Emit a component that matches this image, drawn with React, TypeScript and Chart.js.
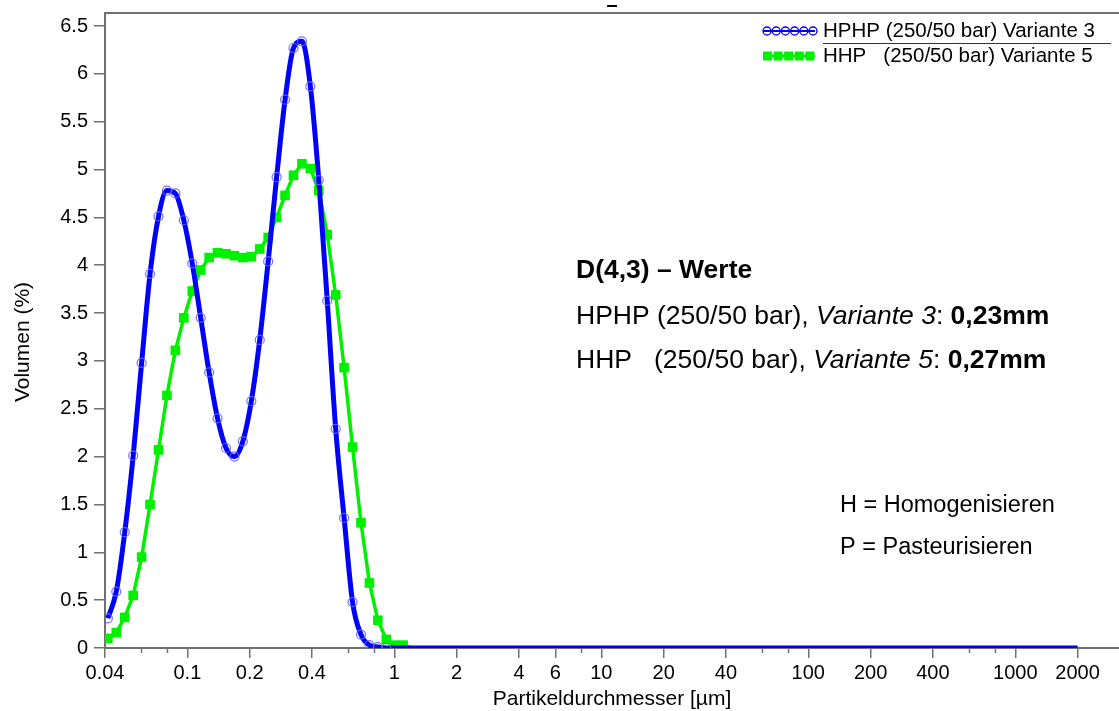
import { useEffect, useRef } from 'react';
import { Chart, registerables } from 'chart.js';

Chart.register(...registerables);

const DIAMETERS = [
  0.0413, 0.04536, 0.04983, 0.05473, 0.06012, 0.06603, 0.07253, 0.07967, 0.08751, 0.09612,
  0.1056, 0.116, 0.1274, 0.1399, 0.1537, 0.1688, 0.1854, 0.2037, 0.2237, 0.2457,
  0.2699, 0.2965, 0.3256, 0.3577, 0.3929, 0.4315, 0.474, 0.5207, 0.5719, 0.6282,
  0.69, 0.7579, 0.8325, 0.9144, 1.004, 1.103, 1.212, 2000,
];

// Volumen (%) – HPHP (250/50 bar) Variante 3
const HPHP_V3 = [
  0.31, 0.59, 1.21, 2.01, 2.98, 3.91, 4.51, 4.78, 4.75, 4.47,
  4.02, 3.45, 2.88, 2.4, 2.09, 2.0, 2.16, 2.58, 3.22, 4.04,
  4.92, 5.73, 6.27, 6.34, 5.87, 4.89, 3.63, 2.29, 1.36, 0.48,
  0.14, 0.03, 0.01, 0, 0, 0, 0, 0,
];

// Volumen (%) – HHP (250/50 bar) Variante 5
const HHP_V5 = [
  0.1, 0.16, 0.32, 0.55, 0.95, 1.5, 2.07, 2.64, 3.11, 3.45,
  3.73, 3.95, 4.08, 4.13, 4.12, 4.1, 4.08, 4.09, 4.17, 4.29,
  4.5, 4.73, 4.94, 5.06, 5.01, 4.78, 4.32, 3.69, 2.93, 2.1,
  1.31, 0.68, 0.29, 0.09, 0.03, 0.03, 0, 0,
];

const SERIES_NAMES = ['HPHP (250/50 bar) Variante 3', 'HHP   (250/50 bar) Variante 5'];

const X_TICKS = [0.04, 0.1, 0.2, 0.4, 1, 2, 4, 6, 10, 20, 40, 100, 200, 400, 1000, 2000];
const X_TICK_LABELS = ['0.04', '0.1', '0.2', '0.4', '1', '2', '4', '6', '10', '20', '40', '100', '200', '400', '1000', '2000'];
const X_MINOR_TICKS = [0.06, 0.08, 0.6, 0.8, 8, 60, 80, 600, 800];
const Y_TICKS = [0, 0.5, 1, 1.5, 2, 2.5, 3, 3.5, 4, 4.5, 5, 5.5, 6, 6.5];
const Y_TICK_LABELS = ['0', '0.5', '1', '1.5', '2', '2.5', '3', '3.5', '4', '4.5', '5', '5.5', '6', '6.5'];

const X_TITLE = 'Partikeldurchmesser [µm]';
const Y_TITLE = 'Volumen (%)';
const TOP_MARK = '–';

const INFO_HEADER = 'D(4,3) – Werte';
const INFO_LINES: [string, string][][] = [
  [['HPHP (250/50 bar), ', 'normal'], ['Variante 3', 'italic'], [': ', 'normal'], ['0,23mm', 'bold']],
  [['HHP   (250/50 bar), ', 'normal'], ['Variante 5', 'italic'], [': ', 'normal'], ['0,27mm', 'bold']],
];
const ABBREVIATIONS = ['H = Homogenisieren', 'P = Pasteurisieren'];

const FONT = '"Liberation Sans", Arial, Helvetica, sans-serif';
const BLUE = '#0000ff';
const GREEN = '#00f000';
const AXIS = '#707070';

function fontStr(style: string, size: number) {
  if (style === 'bold') return `bold ${size}px ${FONT}`;
  if (style === 'italic') return `italic ${size}px ${FONT}`;
  return `${size}px ${FONT}`;
}

const overlayPlugin = {
  id: 'overlay',
  afterDraw(chart: any) {
    const ctx: CanvasRenderingContext2D = chart.ctx;
    const { left, right, top, bottom } = chart.chartArea;
    const xs = chart.scales.x;
    ctx.save();

    // top border
    ctx.strokeStyle = AXIS;
    ctx.lineWidth = 2;
    ctx.beginPath();
    ctx.moveTo(left, top);
    ctx.lineTo(chart.width, top);
    ctx.stroke();

    // minor ticks
    ctx.lineWidth = 1.5;
    for (const v of X_MINOR_TICKS) {
      const px = Math.round(xs.getPixelForValue(v)) + 0.5;
      ctx.beginPath();
      ctx.moveTo(px, bottom);
      ctx.lineTo(px, bottom + 5);
      ctx.stroke();
    }

    ctx.fillStyle = '#000';
    // clipped title mark
    ctx.font = `bold 20px ${FONT}`;
    ctx.textAlign = 'center';
    ctx.textBaseline = 'middle';
    ctx.fillText(TOP_MARK, (left + right) / 2, 5);

    // axis titles
    ctx.font = `21px ${FONT}`;
    ctx.fillText(X_TITLE, (left + right) / 2, 699);
    ctx.save();
    ctx.translate(23, 342);
    ctx.rotate(-Math.PI / 2);
    ctx.fillText(Y_TITLE, 0, 0);
    ctx.restore();

    // legend
    const lx0 = 763, lx1 = 815, tx = 823;
    const r1 = 31, r2 = 56;
    ctx.strokeStyle = BLUE;
    ctx.lineWidth = 2;
    ctx.beginPath();
    ctx.moveTo(lx0, r1);
    ctx.lineTo(lx1, r1);
    ctx.stroke();
    ctx.lineWidth = 1.3;
    for (let i = 0; i < 6; i++) {
      ctx.beginPath();
      ctx.arc(lx0 + 4 + i * 9.2, r1, 4, 0, Math.PI * 2);
      ctx.stroke();
    }
    ctx.strokeStyle = GREEN;
    ctx.lineWidth = 3;
    ctx.beginPath();
    ctx.moveTo(lx0, r2);
    ctx.lineTo(lx1, r2);
    ctx.stroke();
    ctx.fillStyle = GREEN;
    for (let i = 0; i < 5; i++) {
      ctx.fillRect(lx0 + i * 10.6, r2 - 4.5, 9, 9);
    }
    ctx.fillStyle = '#000';
    ctx.textAlign = 'left';
    ctx.font = `20.5px ${FONT}`;
    ctx.fillText(SERIES_NAMES[0], tx, r1);
    ctx.fillText(SERIES_NAMES[1], tx, r2);
    ctx.strokeStyle = '#333';
    ctx.lineWidth = 1;
    ctx.beginPath();
    ctx.moveTo(tx, 43.5);
    ctx.lineTo(1111, 43.5);
    ctx.stroke();

    // info block
    const ix = 576;
    ctx.font = fontStr('bold', 26.5);
    ctx.fillText(INFO_HEADER, ix, 271);
    const lineYs = [317, 361];
    INFO_LINES.forEach((runs, li) => {
      let x = ix;
      for (const [text, style] of runs) {
        ctx.font = fontStr(style, 26.5);
        ctx.fillText(text, x, lineYs[li]);
        x += ctx.measureText(text).width;
      }
    });

    ctx.font = `23.5px ${FONT}`;
    ctx.fillText(ABBREVIATIONS[0], 840, 506);
    ctx.fillText(ABBREVIATIONS[1], 840, 548);

    ctx.restore();
  },
};

export default function App() {
  const canvasRef = useRef<HTMLCanvasElement | null>(null);

  useEffect(() => {
    document.body.style.margin = '0';
    const canvas = canvasRef.current;
    if (!canvas) return;

    const blueData = DIAMETERS.map((d, i) => ({ x: d, y: HPHP_V3[i] }));
    const greenData = DIAMETERS.map((d, i) => ({ x: d, y: HHP_V5[i] }));

    const chart = new Chart(canvas, {
      type: 'line',
      data: {
        datasets: [
          {
            label: SERIES_NAMES[0],
            data: blueData,
            borderColor: BLUE,
            borderWidth: 5,
            cubicInterpolationMode: 'monotone',
            pointStyle: 'circle',
            pointRadius: (c: any) => (c.dataIndex <= 33 ? 4.5 : 0),
            pointBorderWidth: 1.2,
            pointBorderColor: 'rgba(100,100,255,0.9)',
            pointBackgroundColor: 'rgba(0,0,0,0)',
            fill: false,
          },
          {
            label: SERIES_NAMES[1],
            data: greenData,
            borderColor: GREEN,
            borderWidth: 3.5,
            tension: 0,
            pointStyle: 'rect',
            pointRadius: (c: any) => (c.dataIndex <= 35 ? 6.8 : 0),
            pointBorderWidth: 0,
            pointBackgroundColor: GREEN,
            fill: false,
          },
        ],
      },
      options: {
        responsive: false,
        maintainAspectRatio: false,
        animation: false,
        events: [],
        layout: { autoPadding: false, padding: { top: 13, right: 0, bottom: 0, left: 0 } },
        plugins: {
          legend: { display: false },
          tooltip: { enabled: false },
          title: { display: false },
        },
        scales: {
          x: {
            type: 'logarithmic',
            min: 0.04,
            max: 3170,
            afterBuildTicks: (scale: any) => {
              scale.ticks = X_TICKS.map((v) => ({ value: v }));
            },
            afterFit: (scale: any) => {
              scale.height = 63;
              scale.paddingLeft = 0;
              scale.paddingRight = 0;
            },
            ticks: {
              color: '#000',
              font: { family: FONT, size: 20 },
              padding: 3,
              maxRotation: 0,
              autoSkip: false,
              callback: (_v: any, i: number) => X_TICK_LABELS[i],
            },
            grid: {
              drawOnChartArea: false,
              drawTicks: true,
              tickLength: 10,
              color: AXIS,
              lineWidth: 1.5,
            },
            border: { display: true, color: AXIS, width: 2 },
          },
          y: {
            type: 'linear',
            min: 0,
            max: 6.636,
            afterBuildTicks: (scale: any) => {
              scale.ticks = Y_TICKS.map((v) => ({ value: v }));
            },
            afterFit: (scale: any) => {
              scale.width = 105;
              scale.paddingTop = 0;
              scale.paddingBottom = 0;
            },
            ticks: {
              color: '#000',
              font: { family: FONT, size: 20 },
              padding: 6,
              autoSkip: false,
              callback: (_v: any, i: number) => Y_TICK_LABELS[i],
            },
            grid: {
              drawOnChartArea: false,
              drawTicks: true,
              tickLength: 11,
              color: AXIS,
              lineWidth: 1.5,
            },
            border: { display: true, color: AXIS, width: 2 },
          },
        },
      },
      plugins: [overlayPlugin],
    } as any);

    return () => chart.destroy();
  }, []);

  return (
    <div style={{ width: 1119, height: 711, background: '#fff' }}>
      <canvas ref={canvasRef} width={1119} height={711} style={{ display: 'block', width: 1119, height: 711 }} />
    </div>
  );
}
